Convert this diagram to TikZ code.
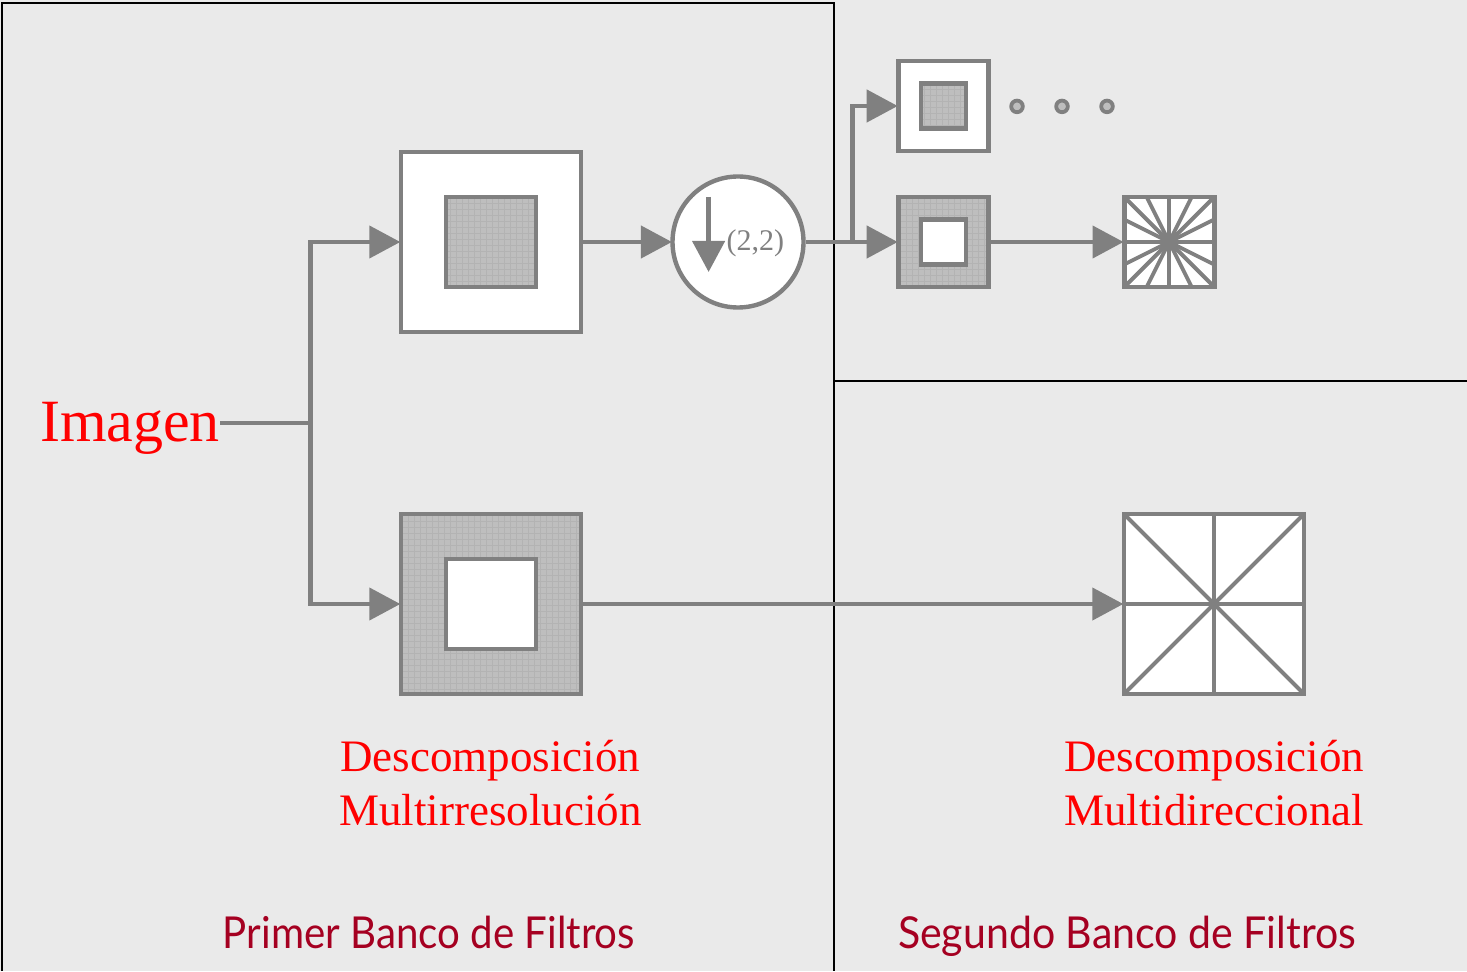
\documentclass[tikz,border=0pt]{standalone}
\usepackage{fontspec}
\usepackage{tikz}
\usetikzlibrary{arrows.meta, patterns, calc}
\setmainfont{Liberation Serif}
\newfontfamily\bancofont[FakeStretch=0.915]{Lato}
\newfontfamily\bancotwofont[FakeStretch=0.933]{Lato}
\definecolor{panelgray}{RGB}{234,234,234}
\definecolor{linegray}{RGB}{128,128,128}
\definecolor{hatchgray}{RGB}{190,190,190}
\definecolor{bancored}{RGB}{165,0,33}
\tikzset{
bigbox/.style={rectangle, draw=linegray, line width=2.3pt, minimum size=90pt, inner sep=0pt},
midbox/.style={rectangle, draw=linegray, line width=2.3pt, minimum size=45pt, inner sep=0pt},
smallbox/.style={rectangle, draw=linegray, line width=2.3pt, minimum size=22.5pt, inner sep=0pt},
whitefill/.style={fill=white},
hatchfill/.style={preaction={fill=hatchgray}, pattern=grid, pattern color=linegray!60},
dotnode/.style={circle, draw=linegray, fill=hatchgray, line width=1.9pt, minimum size=5.8pt, inner sep=0pt},
conn/.style={draw=linegray, line width=2.2pt, shorten >=-0.8pt, -{Triangle[length=15.5pt, width=16pt]}},
plainconn/.style={draw=linegray, line width=2.2pt},
spoke/.style={draw=linegray, line width=1.9pt},
redlabel/.style={text=red, font=\fontsize{22.5}{27}\selectfont, align=center, inner sep=0pt},
bancolabel/.style={text=bancored, font=\bancofont\fontsize{22}{26}\selectfont, inner sep=0pt, anchor=base}}
\begin{document}
\begin{tikzpicture}
        \useasboundingbox (0pt, 0pt) rectangle (733.5pt, 485.5pt);
        % Panels
        \fill[panelgray] (0pt, 0pt) rectangle (733.5pt, 485.5pt);
        \draw[black, line width=1pt] (1pt, 0pt) -- (1pt, 484pt) -- (417pt, 484pt) -- (417pt, 0pt);
        \draw[black, line width=1pt] (417pt, 295pt) -- (733.5pt, 295pt);
        % Boxes
        \node[bigbox, whitefill] (lowpass) at (245.5pt, 364.5pt) {};
        \node[midbox, hatchfill] (lowpassin) at (lowpass) {};
        \node[bigbox, hatchfill] (highpass) at (245.5pt, 183.5pt) {};
        \node[midbox, whitefill] (highpassin) at (highpass) {};
        \node[circle, draw=linegray, fill=white, line width=2.2pt, minimum size=65.5pt, inner sep=0pt] (down) at (369pt, 364.5pt) {};
        \node[midbox, whitefill] (lowpasstwo) at (471.7pt, 432.5pt) {};
        \node[smallbox, hatchfill] (lowpasstwoin) at (lowpasstwo) {};
        \node[midbox, hatchfill] (highpasstwo) at (471.7pt, 364.5pt) {};
        \node[smallbox, whitefill] (highpasstwoin) at (highpasstwo) {};
        \node[midbox, whitefill] (fansmall) at (584.6pt, 364.5pt) {};
        \node[bigbox, whitefill] (fanbig) at (607pt, 183.5pt) {};
        % Spokes
        \foreach \a in {-1, -0.5, 0, 0.5, 1} {
            \draw[spoke] ($(fansmall)+(\a*22.5pt, 22.5pt)$) -- ($(fansmall)-(\a*22.5pt, 22.5pt)$);
            \draw[spoke] ($(fansmall)+(22.5pt, \a*22.5pt)$) -- ($(fansmall)-(22.5pt, \a*22.5pt)$);
        }
        \foreach \a in {-1, 0, 1} {
            \draw[spoke] ($(fanbig)+(\a*45pt, 45pt)$) -- ($(fanbig)-(\a*45pt, 45pt)$);
            \draw[spoke] ($(fanbig)+(45pt, \a*45pt)$) -- ($(fanbig)-(45pt, \a*45pt)$);
        }
        % Dots
        \foreach \n/\x in {dota/508.5pt, dotb/531pt, dotc/553.5pt} {
            \node[dotnode] (\n) at (\x, 432.3pt) {};
        }
        % Labels
        \node[text=red, font=\fontsize{30}{36}\selectfont, inner sep=0pt, anchor=base] (imagen) at (65pt, 265pt) {Imagen};
        \node[text=linegray, font=\fontsize{15}{18}\selectfont, inner sep=0pt] (factor) at (377.7pt, 363.9pt) {(2,2)};
        \node[redlabel] (multires) at (245.2pt, 94pt) {Descomposición\\Multirresolución};
        \node[redlabel] (multidir) at (607pt, 94pt) {Descomposición\\Multidireccional};
        \node[bancolabel] (bancouno) at (214.5pt, 11.5pt) {Primer Banco de Filtros};
        \node[bancolabel, font=\bancotwofont\fontsize{22}{26}\selectfont] (bancodos) at (563.5pt, 11.5pt) {Segundo Banco de Filtros};
        % Connectors
        \coordinate (split) at (155.3pt, 274pt);
        \coordinate (splittwo) at (426.3pt, 364.5pt);
        \coordinate (downstart) at (354.3pt, 387pt);
        \coordinate (downend) at (354.3pt, 350.3pt);
        \draw[plainconn] (imagen.east |- split) -- (split);
        \draw[conn] (split) |- (lowpass.west);
        \draw[conn] (split) |- (highpass.west);
        \draw[conn] (lowpass.east) -- (down.west);
        \draw[conn] (highpass.east) -- (fanbig.west);
        \draw[conn] (down.east) -- (highpasstwo.west);
        \draw[conn] (splittwo) |- (lowpasstwo.west);
        \draw[conn] (highpasstwo.east) -- (fansmall.west);
        \draw[conn] (downstart) -- (downend);
    \end{tikzpicture}
\end{document}
